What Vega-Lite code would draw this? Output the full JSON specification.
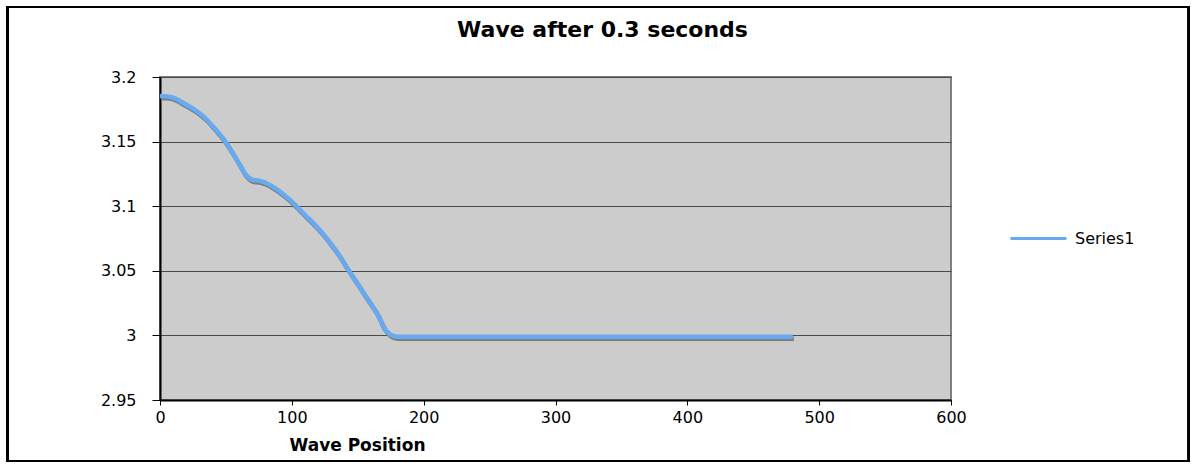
{
  "$schema": "https://vega.github.io/schema/vega-lite/v6.json",
  "autosize": {"type": "none"},
  "width": 791,
  "height": 323,
  "padding": {"left": 160, "top": 77, "right": 243, "bottom": 64},
  "background": "white",
  "title": {
    "text": "Wave after 0.3 seconds",
    "font": "DejaVu Sans",
    "fontSize": 22,
    "fontWeight": "bold",
    "color": "black",
    "anchor": "middle",
    "frame": "group",
    "baseline": "alphabetic",
    "dx": 47,
    "offset": -53
  },
  "data": {
    "values": [
      {"x": 0, "y": 3.1853, "series": "Series1"},
      {"x": 5, "y": 3.185, "series": "Series1"},
      {"x": 10, "y": 3.184, "series": "Series1"},
      {"x": 15, "y": 3.1815, "series": "Series1"},
      {"x": 20, "y": 3.1785, "series": "Series1"},
      {"x": 25, "y": 3.1755, "series": "Series1"},
      {"x": 30, "y": 3.172, "series": "Series1"},
      {"x": 35, "y": 3.1675, "series": "Series1"},
      {"x": 40, "y": 3.162, "series": "Series1"},
      {"x": 45, "y": 3.156, "series": "Series1"},
      {"x": 50, "y": 3.1495, "series": "Series1"},
      {"x": 55, "y": 3.1415, "series": "Series1"},
      {"x": 60, "y": 3.133, "series": "Series1"},
      {"x": 65, "y": 3.1245, "series": "Series1"},
      {"x": 70, "y": 3.1205, "series": "Series1"},
      {"x": 75, "y": 3.1198, "series": "Series1"},
      {"x": 80, "y": 3.1182, "series": "Series1"},
      {"x": 85, "y": 3.1153, "series": "Series1"},
      {"x": 90, "y": 3.112, "series": "Series1"},
      {"x": 95, "y": 3.108, "series": "Series1"},
      {"x": 100, "y": 3.1035, "series": "Series1"},
      {"x": 105, "y": 3.0985, "series": "Series1"},
      {"x": 110, "y": 3.0932, "series": "Series1"},
      {"x": 115, "y": 3.0882, "series": "Series1"},
      {"x": 120, "y": 3.083, "series": "Series1"},
      {"x": 125, "y": 3.077, "series": "Series1"},
      {"x": 130, "y": 3.0705, "series": "Series1"},
      {"x": 135, "y": 3.0635, "series": "Series1"},
      {"x": 140, "y": 3.0555, "series": "Series1"},
      {"x": 145, "y": 3.0475, "series": "Series1"},
      {"x": 150, "y": 3.04, "series": "Series1"},
      {"x": 155, "y": 3.032, "series": "Series1"},
      {"x": 160, "y": 3.0245, "series": "Series1"},
      {"x": 165, "y": 3.0165, "series": "Series1"},
      {"x": 170, "y": 3.006, "series": "Series1"},
      {"x": 175, "y": 3.0005, "series": "Series1"},
      {"x": 180, "y": 2.999, "series": "Series1"},
      {"x": 200, "y": 2.999, "series": "Series1"},
      {"x": 220, "y": 2.999, "series": "Series1"},
      {"x": 240, "y": 2.999, "series": "Series1"},
      {"x": 260, "y": 2.999, "series": "Series1"},
      {"x": 280, "y": 2.999, "series": "Series1"},
      {"x": 300, "y": 2.999, "series": "Series1"},
      {"x": 320, "y": 2.999, "series": "Series1"},
      {"x": 340, "y": 2.999, "series": "Series1"},
      {"x": 360, "y": 2.999, "series": "Series1"},
      {"x": 380, "y": 2.999, "series": "Series1"},
      {"x": 400, "y": 2.999, "series": "Series1"},
      {"x": 420, "y": 2.999, "series": "Series1"},
      {"x": 440, "y": 2.999, "series": "Series1"},
      {"x": 460, "y": 2.999, "series": "Series1"},
      {"x": 480, "y": 2.999, "series": "Series1"}
    ]
  },
  "encoding": {
    "x": {
      "field": "x",
      "type": "quantitative",
      "scale": {"domain": [0, 600], "nice": false, "zero": false},
      "axis": {
        "values": [0, 100, 200, 300, 400, 500, 600],
        "title": "Wave Position",
        "titleFont": "DejaVu Sans",
        "titleFontSize": 17,
        "titleFontWeight": "bold",
        "titleColor": "black",
        "titleX": 197,
        "titleY": 50,
        "titleAlign": "center",
        "titleBaseline": "alphabetic",
        "labelFont": "DejaVu Sans",
        "labelFontSize": 16,
        "labelColor": "black",
        "labelPadding": 4,
        "labelFlush": false,
        "tickSize": 5,
        "tickColor": "black",
        "domainColor": "black",
        "domainWidth": 2,
        "grid": false,
        "format": "d"
      }
    },
    "y": {
      "field": "y",
      "type": "quantitative",
      "scale": {"domain": [2.95, 3.2], "nice": false, "zero": false},
      "axis": {
        "values": [2.95, 3, 3.05, 3.1, 3.15, 3.2],
        "format": "~g",
        "title": null,
        "labelFont": "DejaVu Sans",
        "labelFontSize": 16,
        "labelColor": "black",
        "labelPadding": 16,
        "labelFlush": false,
        "tickSize": 8,
        "tickColor": "black",
        "domainColor": "black",
        "domainWidth": 2,
        "grid": true,
        "gridColor": "#4a4a4a",
        "gridWidth": 1,
        "gridOpacity": 1
      }
    }
  },
  "layer": [
    {
      "mark": {"type": "rect", "fillOpacity": 0, "stroke": "black", "strokeWidth": 2, "clip": false},
      "encoding": {
        "x": {"datum": -116},
        "x2": {"datum": 780.5},
        "y": {"datum": 3.2542},
        "y2": {"datum": 2.9028}
      }
    },
    {
      "mark": {"type": "line", "color": "#7d7d7d", "strokeWidth": 4.5, "xOffset": 1, "yOffset": 2, "interpolate": "monotone"}
    },
    {
      "mark": {"type": "line", "strokeWidth": 4.5, "interpolate": "monotone"},
      "encoding": {
        "color": {
          "field": "series",
          "type": "nominal",
          "scale": {"range": ["#66aaf2"]},
          "legend": {
            "title": null,
            "orient": "none",
            "legendX": 849,
            "legendY": 132,
            "symbolType": "stroke",
            "symbolSize": 3136,
            "symbolStrokeWidth": 3,
            "labelFont": "DejaVu Sans",
            "labelFontSize": 16,
            "labelColor": "black",
            "labelOffset": 7
          }
        }
      }
    }
  ],
  "config": {
    "view": {"fill": "#cccccc", "stroke": "#808080", "strokeWidth": 2}
  }
}
